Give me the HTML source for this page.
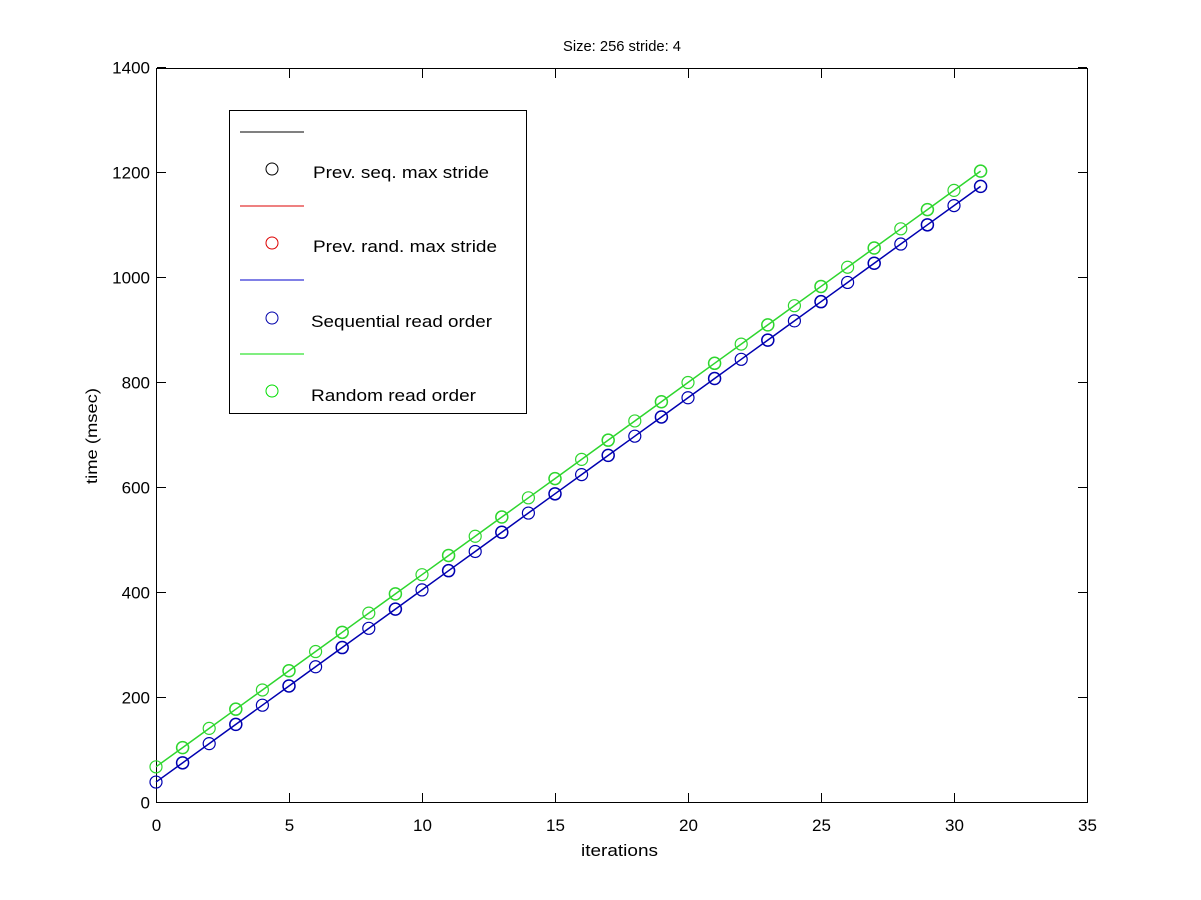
<!DOCTYPE html>
<html><head><style>body{margin:0;background:#fff}svg{display:block;font-family:"Liberation Sans",sans-serif}</style></head>
<body>
<svg id="s" width="1201" height="900" xmlns="http://www.w3.org/2000/svg">
<rect width="1201" height="900" fill="#fff"/>
<text x="563" y="51" font-size="15" textLength="118" lengthAdjust="spacingAndGlyphs">Size: 256 stride: 4</text>
<text x="581" y="856" font-size="17" textLength="77" lengthAdjust="spacingAndGlyphs">iterations</text>
<text transform="translate(97,484) rotate(-90)" font-size="16" textLength="96" lengthAdjust="spacingAndGlyphs">time (msec)</text>
<g id="ax" stroke="#000" stroke-width="1" fill="none"><rect x="156.5" y="68.5" width="931" height="734"/></g>
<g id="lab" font-size="17" fill="#000"></g>
<g id="data"></g>
<g>
<rect x="229.5" y="110.5" width="297" height="303" fill="#fff" stroke="#000"/>
<line x1="240" y1="132" x2="304" y2="132" stroke="#000"/>
<circle cx="272" cy="169" r="6" fill="none" stroke="#000"/>
<line x1="240" y1="206" x2="304" y2="206" stroke="#d00"/>
<circle cx="272" cy="243" r="6" fill="none" stroke="#d00"/>
<line x1="240" y1="280" x2="304" y2="280" stroke="#00c"/>
<circle cx="272" cy="318" r="6" fill="none" stroke="#00a"/>
<line x1="240" y1="354" x2="304" y2="354" stroke="#0d0"/>
<circle cx="272" cy="391" r="6" fill="none" stroke="#0d0"/>
<g font-size="17" lengthAdjust="spacingAndGlyphs"><text x="313" y="178" textLength="176" lengthAdjust="spacingAndGlyphs">Prev. seq. max stride</text><text x="313" y="252" textLength="184" lengthAdjust="spacingAndGlyphs">Prev. rand. max stride</text><text x="311" y="327" textLength="181" lengthAdjust="spacingAndGlyphs">Sequential read order</text><text x="311" y="401" textLength="165" lengthAdjust="spacingAndGlyphs">Random read order</text></g>
</g>
</svg>
<script>
const X=v=>156+v*26.6, Y=v=>802-v*0.525;
let ax=document.getElementById('ax'),lab=document.getElementById('lab'),d=document.getElementById('data');
let h='',l='';
for(let i=0;i<=35;i+=5){let x=X(i)+0.5;h+=`<line x1="${x}" y1="802" x2="${x}" y2="793"/><line x1="${x}" y1="69" x2="${x}" y2="78"/>`;l+=`<text x="${x}" y="831" text-anchor="middle">${i}</text>`;}
for(let v=0;v<=1400;v+=200){let y=Y(v)+0.5;h+=`<line x1="157" y1="${y}" x2="166" y2="${y}"/><line x1="1087" y1="${y}" x2="1078" y2="${y}"/>`;l+=`<text x="150" y="${y+6}" text-anchor="end">${v}</text>`;}
ax.innerHTML+=h;lab.innerHTML=l;
let s='';
function ser(b,m,c,w){let p=[];for(let i=0;i<=31;i++)p.push(X(i)+','+Y(b+m*i));s+=`<polyline points="${p.join(' ')}" fill="none" stroke="${c}" stroke-width="${w}"/>`;for(let i=0;i<=31;i++)s+=`<circle cx="${X(i)}" cy="${Y(b+m*i)}" r="6" fill="none" stroke="${c}" stroke-width="${i%2?1.5:1.2}"/>`;}
ser(38,36.6,'#0000b0',1.5);ser(67,36.6,'#2ed62e',1.5);
d.innerHTML=s;
</script>
</body></html>
